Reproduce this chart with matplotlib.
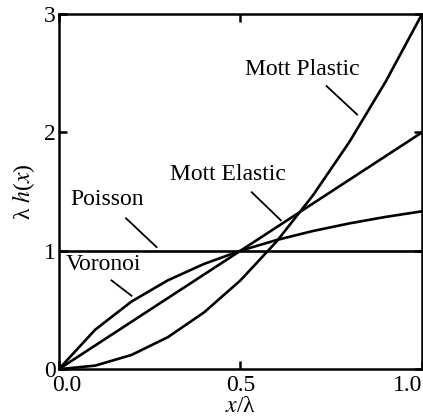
import matplotlib
matplotlib.use('Agg')
import matplotlib.pyplot as plt
import matplotlib.transforms as mtransforms

plt.rcParams['font.family'] = ['Liberation Serif', 'DejaVu Serif']
plt.rcParams['mathtext.fontset'] = 'stix'

# x / lambda sample points
x = [0.0, 0.1, 0.2, 0.3, 0.4, 0.5, 0.6, 0.7, 0.8, 0.9, 1.0]
voronoi = [0.0, 0.333, 0.571, 0.75, 0.889, 1.0, 1.091, 1.167, 1.231, 1.286, 1.333]
mott_plastic = [0.0, 0.03, 0.12, 0.27, 0.48, 0.75, 1.08, 1.47, 1.92, 2.43, 3.0]
elastic_x = [0.0, 1.0]
mott_elastic = [0.0, 2.0]
poisson_x = [0.0, 1.0]
poisson = [1.0, 1.0]

fig = plt.figure(figsize=(4.23, 4.20), dpi=100)
ax = fig.add_axes([0.139, 0.121, 0.859, 0.846])

lw = 1.9
ax.plot(x, voronoi, color='black', lw=lw)
ax.plot(x, mott_plastic, color='black', lw=lw)
ax.plot(elastic_x, mott_elastic, color='black', lw=lw)
ax.plot(poisson_x, poisson, color='black', lw=lw)

fs = 17
ax.set_xlim(0, 1.0)
ax.set_ylim(0, 3)
ax.set_xticks([0.0, 0.5, 1.0])
ax.set_xticklabels(['0.0', '0.5', '1.0'])
ax.set_yticks([0, 1, 2, 3])
ax.tick_params(direction='in', length=6, width=1.8, labelsize=fs,
               top=True, right=True, pad=2)
ax.tick_params(axis='x', pad=4)
labels = ax.get_xticklabels()
labels[-1].set_horizontalalignment('right')
labels[0].set_transform(labels[0].get_transform() +
                        mtransforms.ScaledTranslation(8 / 100, 0, fig.dpi_scale_trans))
for s in ax.spines.values():
    s.set_linewidth(1.8)

ax.set_xlabel(r'$x$/λ', fontsize=fs, labelpad=0)
ax.set_ylabel(r'λ $h$($x$)', fontsize=fs, labelpad=5)

ax.text(0.67, 2.53, 'Mott Plastic', fontsize=fs, ha='center', va='center')
ax.plot([0.737, 0.821], [2.39, 2.15], color='black', lw=1.3)
ax.text(0.466, 1.64, 'Mott Elastic', fontsize=fs, ha='center', va='center')
ax.plot([0.531, 0.611], [1.494, 1.257], color='black', lw=1.3)
ax.text(0.134, 1.43, 'Poisson', fontsize=fs, ha='center', va='center')
ax.plot([0.185, 0.269], [1.274, 1.031], color='black', lw=1.3)
ax.text(0.124, 0.88, 'Voronoi', fontsize=fs, ha='center', va='center')
ax.plot([0.145, 0.2], [0.75, 0.62], color='black', lw=1.3)

fig.savefig('out.png', dpi=100)
